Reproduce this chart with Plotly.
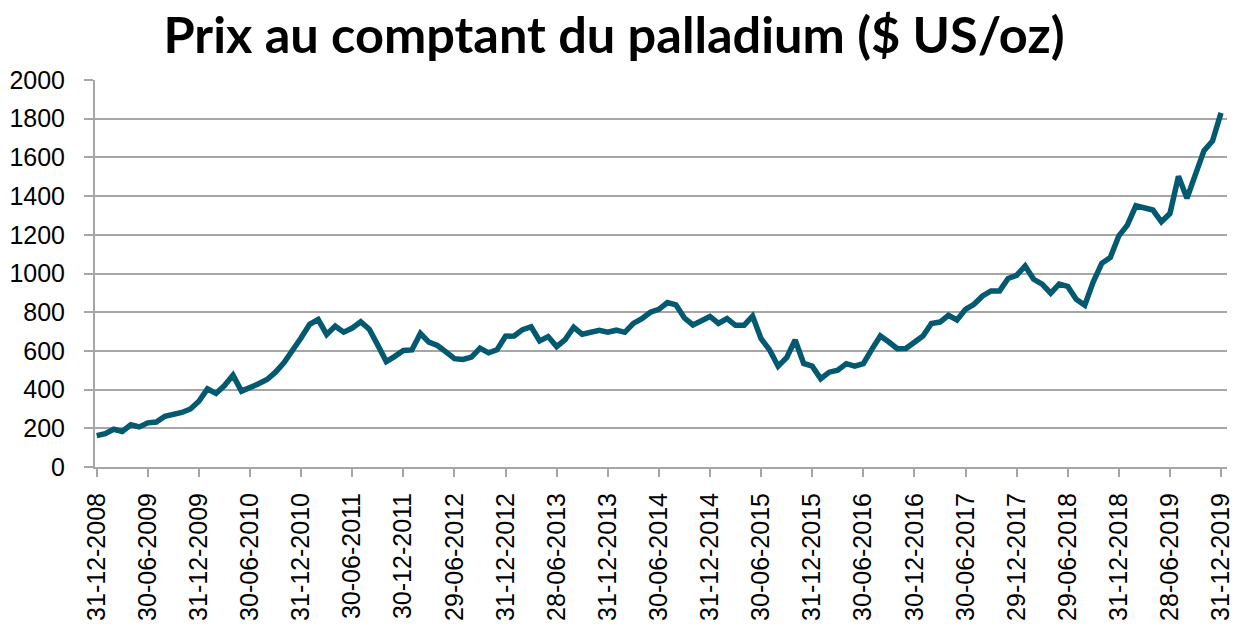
import plotly.graph_objects as go

# Monthly spot price of palladium (US$/oz), Dec 2008 .. Dec 2019 (index = months since Dec 2008)
prices = [
    162, 172, 195, 184, 218, 207, 228, 232, 262, 272, 282, 300,
    340, 404, 380, 421, 475, 392, 415, 430, 452, 490, 540, 600,
    668, 737, 762, 685, 728, 697, 718, 750, 712, 630, 545, 572,
    602, 605, 690, 645, 628, 595, 560, 556, 568, 614, 590, 606,
    676, 677, 710, 725, 652, 674, 622, 658, 722, 686, 696, 706,
    697, 707, 696, 742, 766, 800, 815, 850, 838, 770, 734, 756,
    778, 742, 767, 732, 732, 780, 663, 605, 521, 565, 656, 535,
    521, 456, 490, 500, 534, 521, 534, 608, 677, 646, 611, 612,
    646, 677, 742, 749, 784, 760, 815, 841, 884, 910, 910, 974,
    990, 1039, 970, 945, 898, 945, 933, 867, 836, 957, 1053, 1083,
    1195, 1250, 1350, 1340, 1328, 1267, 1310, 1502, 1389, 1512, 1635, 1685,
    1830,
]
months = list(range(len(prices)))

tick_labels = [
    "31-12-2008", "30-06-2009", "31-12-2009", "30-06-2010", "31-12-2010",
    "30-06-2011", "30-12-2011", "29-06-2012", "31-12-2012", "28-06-2013",
    "31-12-2013", "30-06-2014", "31-12-2014", "30-06-2015", "31-12-2015",
    "30-06-2016", "30-12-2016", "30-06-2017", "29-12-2017", "29-06-2018",
    "31-12-2018", "28-06-2019", "31-12-2019",
]
tick_positions = [i * 6 for i in range(len(tick_labels))]
y_ticks = list(range(0, 2001, 200))

fig = go.Figure()
fig.add_trace(go.Scatter(
    x=months, y=prices, mode="lines",
    line=dict(color="#035a70", width=5.5),
    hoverinfo="skip",
))

grid = "#a6a6a6"
W, H = 1239, 627
fig.update_layout(
    width=W, height=H,
    margin=dict(l=95, r=12, t=80, b=160, autoexpand=False),
    paper_bgcolor="white", plot_bgcolor="white",
    showlegend=False,
    title=dict(
        text="<b>Prix au comptant du palladium ($ US/oz)</b>",
        font=dict(family="Lato, Carlito, sans-serif", size=50.5, color="black"),
        x=614 / W, xref="container", xanchor="center",
        y=1 - 35 / H, yref="container", yanchor="middle",
    ),
    font=dict(family="Liberation Sans, Arial, sans-serif", size=25, color="black"),
)
fig.update_xaxes(
    range=[-0.2, 132.7], automargin=False,
    tickmode="array", tickvals=tick_positions, ticktext=tick_labels,
    tickangle=-90, ticks="outside", ticklen=8, tickcolor=grid, tickwidth=2,
    ticklabelstandoff=6,
    showline=True, linecolor=grid, linewidth=2,
    showgrid=False, zeroline=False,
    tickfont=dict(size=25),
)
fig.update_yaxes(
    range=[0, 2000], automargin=False,
    tickmode="array", tickvals=y_ticks,
    ticks="outside", ticklen=9, tickcolor=grid, tickwidth=2,
    ticklabelstandoff=14,
    showline=True, linecolor=grid, linewidth=2,
    showgrid=True, gridcolor=grid, gridwidth=2,
    zeroline=False,
    tickfont=dict(size=25),
)

fig.write_html(
    "out.html",
    config={"displayModeBar": False, "staticPlot": True},
    post_script="document.body.style.margin='0';document.body.style.overflow='hidden';",
)
